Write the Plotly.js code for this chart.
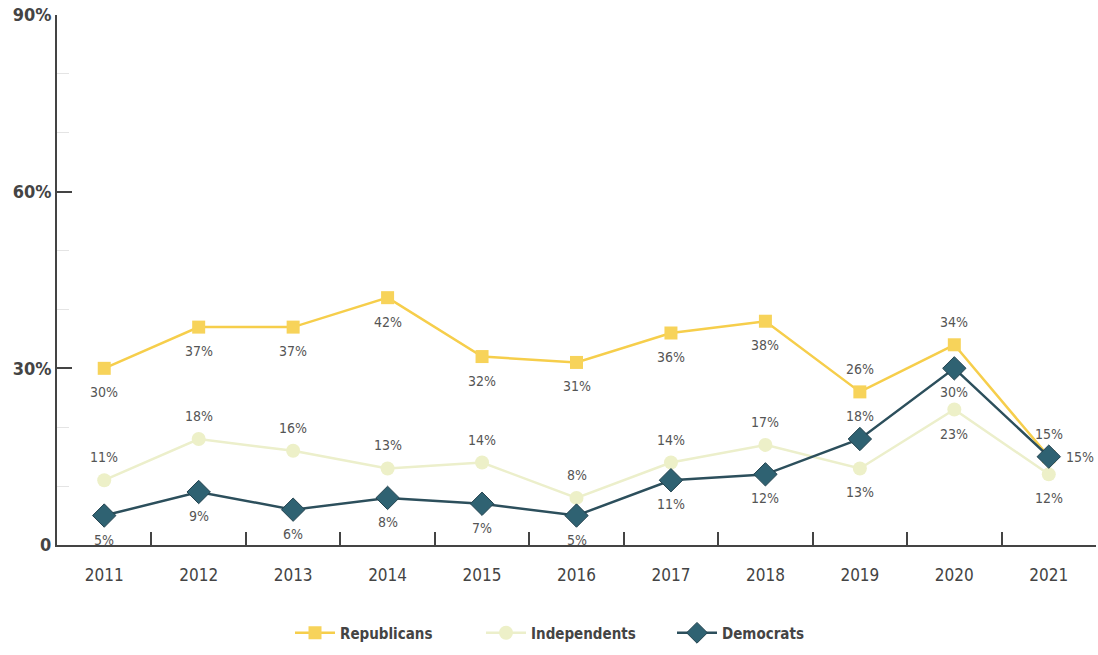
<!DOCTYPE html>
<html>
<head>
<meta charset="utf-8">
<script src="https://cdn.plot.ly/plotly-3.0.1.min.js"></script>
<style>html,body{margin:0;padding:0;background:#fff;}#chart{width:1098px;height:655px;}</style>
</head>
<body>
<div id="chart"></div>
<script>
const years = ["2011","2012","2013","2014","2015","2016","2017","2018","2019","2020","2021"];
const republicans = [30,37,37,42,32,31,36,38,26,34,15];
const independents = [11,18,16,13,14,8,14,17,13,23,12];
const democrats = [5,9,6,8,7,5,11,12,18,30,15];
// label placement: b = below, t = above, r = right
const repPos = ["b","b","b","b","b","b","b","b","t","t","t"];
const indPos = ["t","t","t","t","t","t","t","t","b","b","b"];
const demPos = ["b","b","b","b","b","b","b","b","t","b","r"];
const yTicks = [0,30,60,90];
const yTickText = ["0","30%","60%","90%"];

const FONT = '"Liberation Sans Narrow","DejaVu Sans Condensed","Roboto Condensed","Liberation Sans",sans-serif';
const lblFont = {family: FONT, size: 14, color: '#555'};

const traces = [
  {x: years, y: republicans, name: 'Republicans', mode: 'lines+markers',
   line: {color: '#F6CE4B', width: 2.5},
   marker: {symbol: 'square', size: 13, color: '#F7D35A'}},
  {x: years, y: independents, name: 'Independents', mode: 'lines+markers',
   line: {color: '#ECEFCB', width: 2.5},
   marker: {symbol: 'circle', size: 14, color: '#EDF0C8'}},
  {x: years, y: democrats, name: 'Democrats', mode: 'lines+markers',
   line: {color: '#2C4F5C', width: 2.5},
   marker: {symbol: 'diamond', size: 18, color: '#2F6272', line: {color: '#24434F', width: 1}}}
];

const annotations = [];
function addLabels(vals, pos) {
  vals.forEach((v, i) => {
    const p = pos[i];
    annotations.push({
      x: i, y: v, xref: 'x', yref: 'y', text: v + '%', showarrow: false,
      font: lblFont,
      yshift: p === 'b' ? -24 : (p === 't' ? 23 : 0),
      xshift: p === 'r' ? 31 : 0
    });
  });
}
addLabels(republicans, repPos);
addLabels(independents, indPos);
addLabels(democrats, demPos);

const layout = {
  width: 1098, height: 655,
  margin: {l: 57, r: 2, t: 15, b: 110},
  paper_bgcolor: '#fff', plot_bgcolor: '#fff',
  font: {family: FONT, color: '#444'},
  showlegend: true,
  annotations: annotations,
  legend: {orientation: 'h', x: 0.5, xanchor: 'center', y: -0.135, yanchor: 'top',
           font: {family: FONT, size: 15, color: '#444', weight: 'bold'},
           itemwidth: 40, entrywidth: 136, entrywidthmode: 'pixels'},
  xaxis: {type: 'category', range: [-0.5, 10.5], showgrid: false, zeroline: false,
          showline: true, linecolor: '#444', linewidth: 2,
          ticks: 'inside', tickson: 'boundaries', ticklen: 13, tickwidth: 2, tickcolor: '#444',
          tickfont: {family: FONT, size: 17, color: '#444'}, ticklabelstandoff: 14},
  yaxis: {range: [0, 90], showgrid: false, zeroline: false,
          showline: true, linecolor: '#444', linewidth: 2,
          tickvals: yTicks, ticktext: yTickText,
          ticks: 'inside', ticklen: 15, tickwidth: 2, tickcolor: '#444',
          tickfont: {family: FONT, size: 18, color: '#444', weight: 'bold'},
          minor: {dtick: 10, ticks: 'inside', ticklen: 12, tickwidth: 1, tickcolor: '#e4e4e4'}}
};

Plotly.newPlot('chart', traces, layout, {displayModeBar: false, staticPlot: true});
</script>
</body>
</html>
